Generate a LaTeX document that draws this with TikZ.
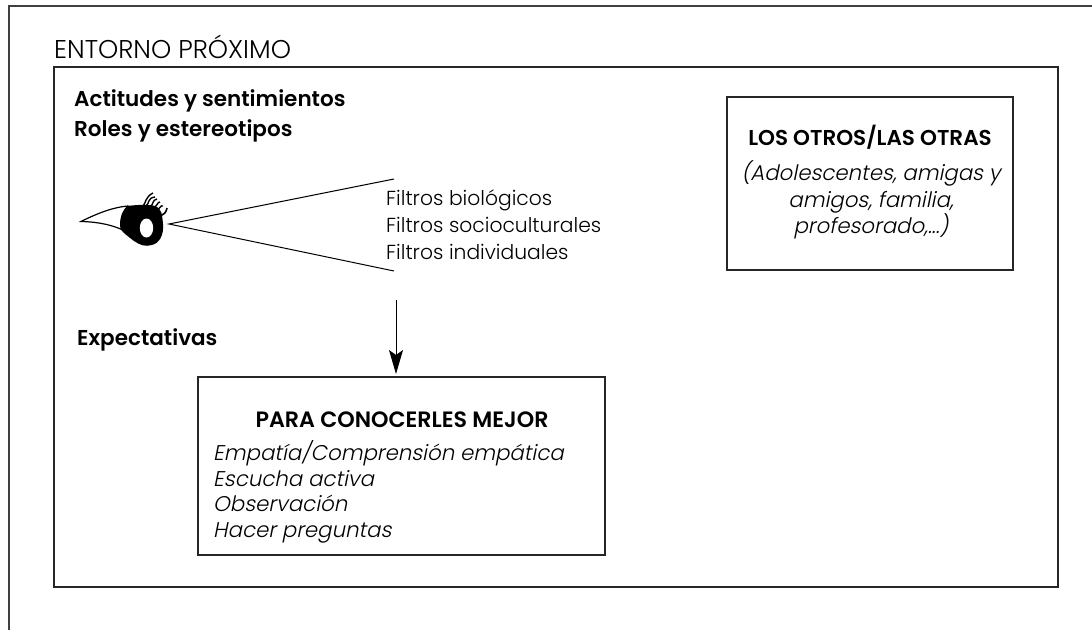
\documentclass[tikz,border=0pt]{standalone}
\usepackage{fontspec}
\usetikzlibrary{arrows.meta}
\setmainfont{Poppins Light}
\newfontfamily\boldfont{Poppins SemiBold}
\tikzset{
	boxnode/.style={draw=black!85,line width=1.1pt},
	titletext/.style={anchor=base,font=\boldfont\fontsize{21.5}{24}\selectfont,inner sep=0pt},
	bodytext/.style={anchor=base west,font=\fontsize{20.3}{24}\selectfont,inner sep=0pt},
	slanttext/.style={font=\fontsize{21.3}{24}\selectfont\addfontfeature{FakeSlant=0.2},inner sep=0pt}
}
\begin{document}
\begin{tikzpicture}[x=1pt,y=-1pt]
\useasboundingbox (0,0) rectangle (1092,630);

% frames
\coordinate(ftop) at (1092,6);
\coordinate(fcorner) at (9,6);
\coordinate(fbottom) at (9,630);
\draw[draw=black!75,line width=1.2pt] (ftop) -- (fcorner) -- (fbottom);
\node(entorno)[boxnode,minimum width=1004pt,minimum height=520pt,inner sep=0pt] at (556,327) {};
\node(otros)[boxnode,minimum width=286pt,minimum height=173pt,inner sep=0pt] at (870,183.5) {};
\node(conocer)[boxnode,minimum width=407pt,minimum height=178pt,inner sep=0pt] at (401.5,466) {};

% texts
\node(lentorno)[bodytext,font=\fontsize{25.7}{28}\selectfont] at (54,58) {ENTORNO PRÓXIMO};
\node(actitudes)[titletext,anchor=base west] at (74,106.5) {Actitudes y sentimientos};
\node(roles)[titletext,anchor=base west] at (74,136) {Roles y estereotipos};
\node(expect)[titletext,anchor=base west] at (77,345) {Expectativas};

\node(filtroa)[bodytext] at (386,205) {Filtros biológicos};
\node(filtrob)[bodytext] at (386,232) {Filtros socioculturales};
\node(filtroc)[bodytext] at (386,259) {Filtros individuales};

\node(lotros)[titletext] at (870,145) {LOS OTROS/LAS OTRAS};
\node(otrosa)[slanttext,anchor=base] at (871,180) {(Adolescentes, amigas y};
\node(otrosb)[slanttext,anchor=base] at (871,207) {amigos, familia,};
\node(otrosc)[slanttext,anchor=base] at (871,233) {profesorado,...)};

\node(lconocer)[titletext,font=\boldfont\fontsize{22.2}{24}\selectfont] at (402,427) {PARA CONOCERLES MEJOR};
\node(conocera)[slanttext,anchor=base west] at (213,460) {Empatía/Comprensión empática};
\node(conocerb)[slanttext,anchor=base west] at (213,486) {Escucha activa};
\node(conocerc)[slanttext,anchor=base west] at (213,511) {Observación};
\node(conocerd)[slanttext,anchor=base west] at (213,537) {Hacer preguntas};

% vision cone
\coordinate(apex) at (169,224);
\coordinate(conea) at (394,179);
\coordinate(coneb) at (394,271);
\draw[line width=1pt] (conea) -- (apex) -- (coneb);

% arrow
\coordinate(arrowtop) at (396,300);
\coordinate(arrowend) at (396,374);
\draw[line width=1pt,-{Stealth[length=24pt,width=14pt,inset=5pt]}] (arrowtop) -- (arrowend);

% eye
\draw[line width=1.2pt,fill=white] (81,221.5) .. controls (100,212) and (115,207) .. (128,206)
	-- (138,240) .. controls (125,228) and (105,222) .. (81,221.5) -- cycle;
\fill (127,206) .. controls (135,205) and (148,204) .. (155,206)
	.. controls (162,209) and (162,214) .. (163,224)
	.. controls (164,234) and (160,243) .. (152,245)
	.. controls (145,247) and (140,245) .. (134,241)
	.. controls (125,234) and (119,230) .. (120,225)
	.. controls (120,216) and (123,210) .. (127,206) -- cycle;
\fill[white] (146.5,228) ellipse (6.7pt and 9.5pt);
\draw[line width=1.4pt] (143,206) .. controls (146,203) and (145,197) .. (153,193);
\draw[line width=1.4pt] (146,206) .. controls (150,203) and (147,198) .. (155,197);
\draw[line width=1.4pt] (150,207) .. controls (154,204) and (152,200) .. (157,199);
\draw[line width=1.4pt] (153,208) .. controls (158,206) and (157,202) .. (160,202);
\draw[line width=1.4pt] (156,211) .. controls (161,208) and (160,205) .. (163,206);
\draw[line width=1.6pt] (158,216) .. controls (165,215) and (166,212) .. (167,208);
\end{tikzpicture}
\end{document}
